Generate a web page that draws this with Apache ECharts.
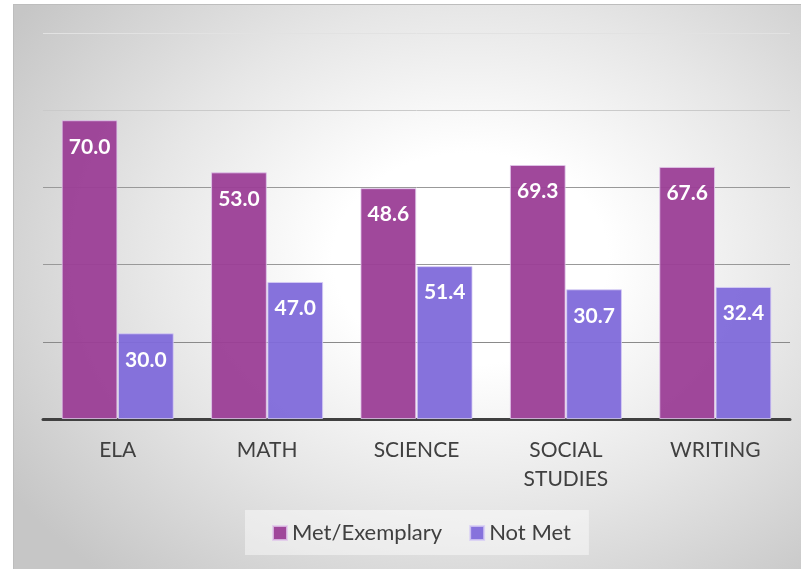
<!DOCTYPE html>
<html>
<head>
<meta charset="utf-8">
<script src="https://cdn.jsdelivr.net/npm/echarts@6/dist/echarts.min.js"></script>
<style>
  html, body { margin: 0; padding: 0; background: #fff; }
  #wrap { position: absolute; left: 13px; top: 4px; width: 788px; height: 565px;
          border-top: 1px solid #bdbdbd; border-left: 1px solid #bdbdbd; box-sizing: border-box;
          background: radial-gradient(ellipse 70% 75% at 58% 45%, #ffffff 0%, #ffffff 25%, #e6e6e6 60%, #c6c6c6 100%); }
  #chart { position: absolute; left: 0; top: 0; width: 801px; height: 569px; }
</style>
</head>
<body>
<div id="wrap"></div>
<div id="chart"></div>
<script>
// 科目
var categories = ['ELA', 'MATH', 'SCIENCE', 'SOCIAL\nSTUDIES', 'WRITING'];
// 柱子高度
var metValues = [77.4, 63.9, 59.8, 65.8, 65.3];
var notMetValues = [22.2, 35.5, 39.6, 33.6, 34.2];
// 柱子上写的数字
var metLabels = ['70.0', '53.0', '48.6', '69.3', '67.6'];
var notMetLabels = ['30.0', '47.0', '51.4', '30.7', '32.4'];
var yTicks = [0, 20, 40, 60, 80, 100];

var font = 'Lato, "Open Sans", sans-serif';
var myChart = echarts.init(document.getElementById('chart'));

function labelOf(list) {
    return {
        show: true,
        position: 'insideTop',
        distance: 16,
        color: '#fff',
        fontWeight: 'bold',
        fontSize: 21,
        fontFamily: font,
        formatter: function (p) { return list[p.dataIndex]; }
    };
}

var option = {
    animation: false,
    backgroundColor: 'transparent',
    textStyle: { fontFamily: font },
    grid: { left: 43, right: 11, top: 33, bottom: 150 },
    legend: {
        left: 245,
        top: 510,
        padding: [12, 18, 11, 27],
        backgroundColor: 'rgba(255,255,255,0.45)',
        itemWidth: 14,
        itemHeight: 14,
        itemGap: 27,
        icon: 'rect',
        textStyle: { fontSize: 22, color: '#404040', fontFamily: font },
        data: ['Met/Exemplary', 'Not Met']
    },
    xAxis: {
        type: 'category',
        data: categories,
        axisTick: { show: false },
        axisLine: { lineStyle: { color: '#404040', width: 3 } },
        axisLabel: { color: '#404040', fontSize: 21, margin: 17, lineHeight: 29, fontFamily: font }
    },
    yAxis: {
        type: 'value',
        min: yTicks[0],
        max: yTicks[yTicks.length - 1],
        interval: 20,
        axisLabel: { show: false },
        axisLine: { show: false },
        axisTick: { show: false },
        splitLine: { lineStyle: { color: ['#888', '#8a8a8a', '#999', '#999', '#cacaca', '#e2e2e2'], width: 1 } }
    },
    series: [
        {
            name: 'Met/Exemplary',
            type: 'bar',
            data: metValues,
            barGap: '1%',
            barCategoryGap: '25%',
            itemStyle: { color: 'rgba(155,62,150,0.95)', borderColor: 'rgba(225,200,235,0.8)', borderWidth: 1 },
            label: labelOf(metLabels)
        },
        {
            name: 'Not Met',
            type: 'bar',
            data: notMetValues,
            itemStyle: { color: 'rgba(128,106,218,0.95)', borderColor: 'rgba(215,205,245,0.8)', borderWidth: 1 },
            label: labelOf(notMetLabels)
        }
    ]
};
myChart.setOption(option);
</script>
</body>
</html>
